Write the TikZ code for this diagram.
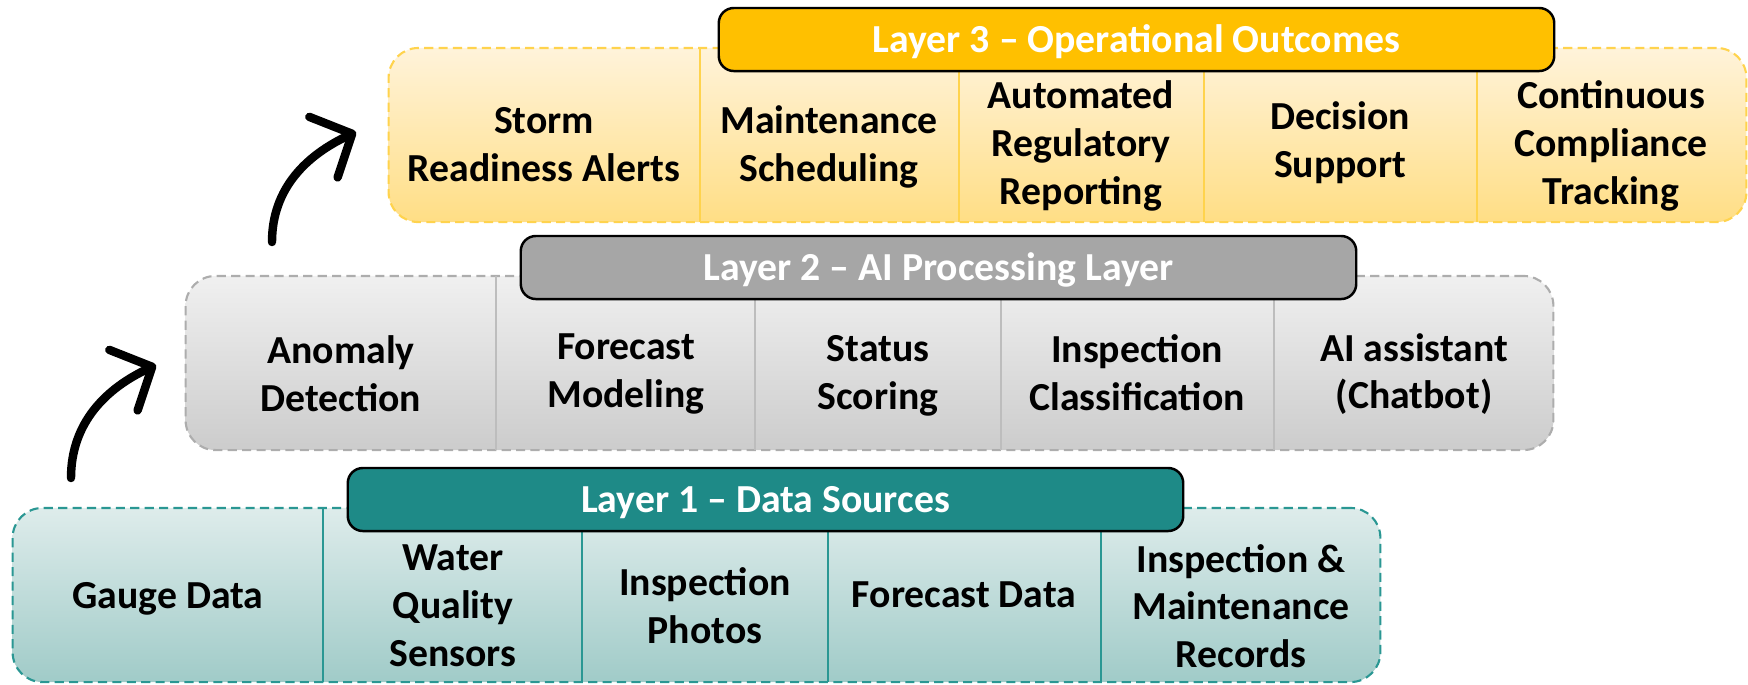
\documentclass[tikz,border=0pt]{standalone}
\usepackage{fontspec}
\setmainfont{Carlito}
\usetikzlibrary{arrows.meta}

\definecolor{tealhead}{HTML}{1E8A87}
\definecolor{tealline}{HTML}{2A9793}
\definecolor{tealtop}{HTML}{DEECEB}
\definecolor{tealbot}{HTML}{A0CBC8}
\definecolor{grayhead}{HTML}{A6A6A6}
\definecolor{grayline}{HTML}{ADADAD}
\definecolor{graytop}{HTML}{F0F0F0}
\definecolor{graybot}{HTML}{CCCCCC}
\definecolor{goldhead}{HTML}{FFC000}
\definecolor{goldline}{HTML}{FFD34D}
\definecolor{goldtop}{HTML}{FFF3DA}
\definecolor{goldbot}{HTML}{FFDE85}

\begin{document}
\begin{tikzpicture}[x=0.01cm, y=-0.01cm,
    layerbox/.style={minimum width=13.67cm, minimum height=1.74cm, rounded corners=8.5pt,
      line width=0.6pt, dash pattern=on 2.6pt off 1.5pt},
    head/.style={draw=black, line width=0.7pt, rounded corners=4.3pt, minimum width=8.35cm,
      minimum height=0.63cm, text=white, text height=7.3pt, text depth=0pt,
      font=\bfseries\fontsize{11.3}{13}\selectfont},
    cell/.style={align=center, font=\bfseries\fontsize{11.3}{13.6}\selectfont},
    divider/.style={line width=0.35pt},
    up/.style={line width=2.4pt, line cap=round, -{Straight Barb[length=9pt,width=19pt,round]}}]
  \useasboundingbox (0,0) rectangle (1748,684);

  % Layer 1
  \begin{scope}[shift={(13,508)}]
    \node[layerbox, draw=tealline, top color=tealtop, bottom color=tealbot] (l1) at (683.5,87) {};
    \foreach \x in {310,569,815,1088}
      \draw[divider, tealline] (\x,0) -- (\x,174);
    \node[head, fill=tealhead] (h1) at (752.5,-8.5) {Layer 1 -- Data Sources};
    \node[cell] (gauge) at (155,91) {Gauge Data};
    \node[cell] (quality) at (440,98) {Water\\Quality\\Sensors};
    \node[cell] (photos) at (692,98) {Inspection\\Photos};
    \node[cell] (fcdata) at (951,87) {Forecast Data};
    \node[cell] (records) at (1228,98) {Inspection \&\\Maintenance\\Records};
  \end{scope}

  % Layer 2
  \begin{scope}[shift={(186,276)}]
    \node[layerbox, draw=grayline, top color=graytop, bottom color=graybot] (l2) at (683.5,87) {};
    \foreach \x in {310,569,815,1088}
      \draw[divider, grayline!80] (\x,0) -- (\x,174);
    \node[head, fill=grayhead] (h2) at (752.5,-8.5) {Layer 2 -- AI Processing Layer};
    \node[cell] (anomaly) at (155,98) {Anomaly\\Detection};
    \node[cell] (fcmodel) at (440,98) {Forecast\\Modeling};
    \node[cell] (status) at (692,100) {Status\\Scoring};
    \node[cell] (classif) at (951,97) {Inspection\\Classification};
    \node[cell] (chatbot) at (1228,98) {AI assistant\\(Chatbot)};
  \end{scope}

  % Layer 3
  \begin{scope}[shift={(389,48)}]
    \node[layerbox, minimum width=13.57cm, draw=goldline, top color=goldtop, bottom color=goldbot] (l3) at (678.5,87) {};
    \foreach \x in {311,570,815,1088}
      \draw[divider, goldline] (\x,0) -- (\x,174);
    \node[head, fill=goldhead] (h3) at (747.5,-8.5) {Layer 3 -- Operational Outcomes};
    \node[cell] (storm) at (155,97) {Storm\\Readiness Alerts};
    \node[cell] (maint) at (440,99) {Maintenance\\Scheduling};
    \node[cell] (reporting) at (692,98) {Automated\\Regulatory\\Reporting};
    \node[cell] (decision) at (951,95) {Decision\\Support};
    \node[cell] (compliance) at (1222,98) {Continuous\\Compliance\\Tracking};
  \end{scope}

  % arrows between layers
  \coordinate (a1s) at (71,478);
  \coordinate (a1e) at (156,365);
  \coordinate (a2s) at (272,242);
  \coordinate (a2e) at (356,132);
  \draw[up] (a1s) to[out=90, in=205] (a1e);
  \draw[up] (a2s) to[out=90, in=205] (a2e);
\end{tikzpicture}
\end{document}
